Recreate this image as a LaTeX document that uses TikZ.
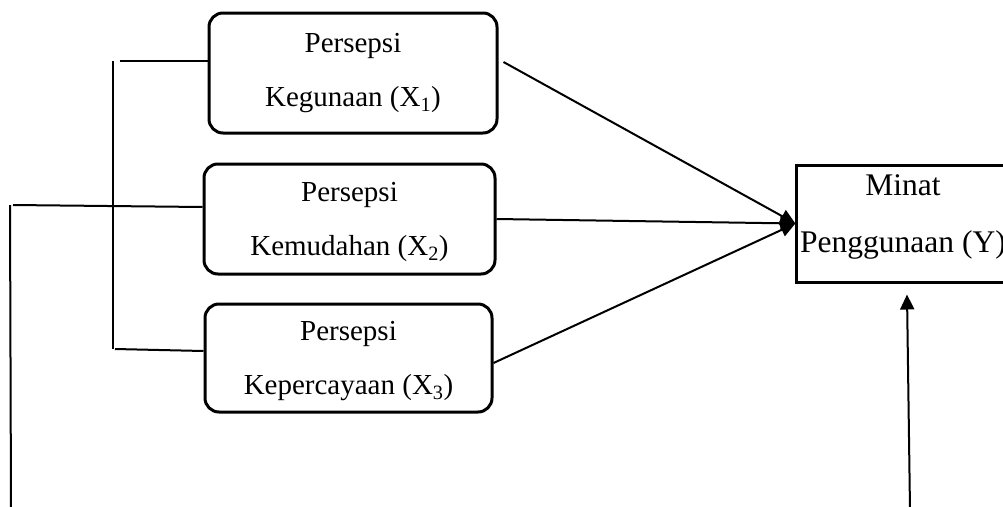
\documentclass[tikz,border=0pt]{standalone}
\usepackage{fontspec}
\setmainfont{Liberation Serif}
\usetikzlibrary{arrows.meta}

\tikzset{
  varbox/.style={draw, line width=3pt, rounded corners=14pt, align=center,
    font=\fontsize{29}{54}\selectfont},
  garis/.style={line width=2pt},
  panah/.style={garis, -{Triangle[length=15pt,width=14pt]}}
}

\begin{document}
\begin{tikzpicture}[x=1pt,y=-1pt]
				\useasboundingbox (0,0) rectangle (1003,506);
				
				% variabel bebas
				\node[varbox, minimum width=288pt, minimum height=120pt] (kegunaan) at (353,73) {Persepsi\\Kegunaan (X\textsubscript{1})};
				\node[varbox, minimum width=291pt, minimum height=110pt, text depth=0pt] (kemudahan) at (349.5,219) {Persepsi\\Kemudahan (X\textsubscript{2})};
				\node[varbox, minimum width=287pt, minimum height=108pt, text depth=0pt] (kepercayaan) at (348.5,358) {Persepsi\\Kepercayaan (X\textsubscript{3})};
				
				% variabel terikat
				\node[draw, line width=3pt, align=center, minimum width=210pt, minimum height=117pt, text depth=20pt,
				  font=\fontsize{31.5}{57}\selectfont] (minat) at (903,223.5) {Minat\\Penggunaan (Y)};
				
				% garis kurung kiri
				\coordinate (kurungatas) at (113,61);
				\coordinate (kurungbawah) at (113,349);
				\draw[garis] (kurungatas) -- (kurungbawah);
				\draw[garis] ([xshift=7pt]kurungatas) -- ([yshift=12pt]kegunaan.west);
				\draw[garis] ([xshift=2pt]kurungbawah) -- ([yshift=7pt]kepercayaan.west);
				
				% garis luar
				\coordinate (luaratas) at (10,205);
				\coordinate (luarbawah) at (11,510);
				\draw[garis] (luaratas) -- (luarbawah);
				\draw[garis] ([xshift=3pt]luaratas) -- ([yshift=12pt]kemudahan.west);
				
				% panah ke minat
				\draw[panah] ([xshift=5pt,yshift=11pt]kegunaan.east) -- (minat.west);
				\draw[panah] (kemudahan.east) -- (minat.west);
				\draw[panah] ([yshift=-5pt]kepercayaan.east) -- (minat.west);
				
				\coordinate (panahbawah) at (910,510);
				\draw[panah] (panahbawah) -- ([xshift=4pt,yshift=-11pt]minat.south);
			\end{tikzpicture}
\end{document}
